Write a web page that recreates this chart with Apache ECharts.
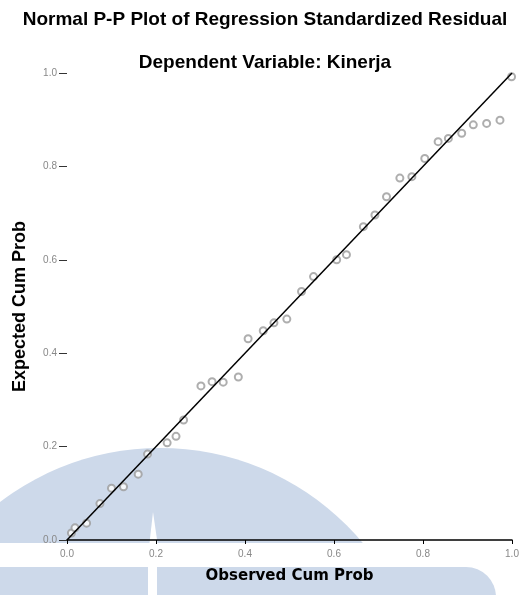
<!DOCTYPE html>
<html>
<head>
<meta charset="utf-8">
<script src="https://cdn.jsdelivr.net/npm/echarts@6/dist/echarts.min.js"></script>
<style>html,body{margin:0;padding:0;background:#fff}#c{width:530px;height:595px}</style>
</head>
<body>
<div id="c"></div>
<script>
// Observed cumulative probability (x) and expected cumulative probability (y)
var observedCumProb = [0.010, 0.018, 0.044, 0.074, 0.100, 0.127, 0.160, 0.181, 0.225, 0.245,
  0.262, 0.301, 0.326, 0.351, 0.385, 0.407, 0.441, 0.465, 0.494, 0.527,
  0.554, 0.606, 0.628, 0.666, 0.692, 0.718, 0.748, 0.775, 0.804, 0.834,
  0.857, 0.887, 0.913, 0.943, 0.973, 0.999];
var expectedCumProb = [0.015, 0.026, 0.036, 0.078, 0.111, 0.114, 0.141, 0.184, 0.208, 0.222,
  0.257, 0.330, 0.339, 0.338, 0.349, 0.431, 0.448, 0.465, 0.473, 0.532,
  0.564, 0.600, 0.611, 0.671, 0.696, 0.735, 0.775, 0.778, 0.817, 0.853,
  0.860, 0.871, 0.889, 0.892, 0.899, 0.992];
var refLineX = [0, 1];
var refLineY = [0, 1];
var tickLabels = ['0.0', '0.2', '0.4', '0.6', '0.8', '1.0'];

var chart = echarts.init(document.getElementById('c'), null, {renderer: 'canvas'});
var pts = observedCumProb.map(function (v, i) { return [v, expectedCumProb[i]]; });
var line = refLineX.map(function (v, i) { return [v, refLineY[i]]; });
var wm = '#cdd9ea';
var fmt = function (v) { var i = Math.round(v / 0.2); return tickLabels[i] !== undefined ? tickLabels[i] : v.toFixed(1); };

chart.setOption({
  backgroundColor: '#fff',
  animation: false,
  graphic: [
    {type: 'circle', z: -10, silent: true, shape: {cx: 160, cy: 712, r: 264}, style: {fill: wm}},
    {type: 'rect', z: -9, silent: true, shape: {x: 0, y: 543, width: 530, height: 24}, style: {fill: '#fff'}},
    {type: 'rect', z: -9, silent: true, shape: {x: 0, y: 567, width: 496, height: 30, r: [0, 30, 0, 0]}, style: {fill: wm}},
    {type: 'polygon', z: -8, silent: true, shape: {points: [[153, 512], [149.5, 543], [157.5, 543]]}, style: {fill: '#fff'}},
    {type: 'rect', z: -8, silent: true, shape: {x: 148, y: 567, width: 9, height: 30}, style: {fill: '#fff'}}
  ],
  title: [
    {text: 'Normal P-P Plot of Regression Standardized Residual', left: 'center', top: 5,
      textStyle: {fontFamily: 'Liberation Sans', fontWeight: 'bold', fontSize: 19, color: '#000'}},
    {text: 'Dependent Variable: Kinerja', left: 'center', top: 48,
      textStyle: {fontFamily: 'Liberation Sans', fontWeight: 'bold', fontSize: 19, color: '#000'}}
  ],
  grid: {left: 67, right: 18, top: 73, bottom: 55},
  xAxis: {
    type: 'value', min: 0, max: 1, interval: 0.2,
    name: 'Observed Cum Prob', nameLocation: 'middle', nameGap: 29,
    nameTextStyle: {fontFamily: 'DejaVu Sans', fontWeight: 'bold', fontSize: 15, color: '#000'},
    axisLine: {show: true, lineStyle: {color: '#000', width: 1.5}},
    axisTick: {show: true, length: 4, lineStyle: {color: '#000'}},
    axisLabel: {margin: 9, fontSize: 10, fontFamily: 'Liberation Sans', color: '#888', formatter: fmt},
    splitLine: {show: false}
  },
  yAxis: {
    type: 'value', min: 0, max: 1, interval: 0.2,
    name: 'Expected Cum Prob', nameLocation: 'middle', nameGap: 38, nameRotate: 90,
    nameTextStyle: {fontFamily: 'Liberation Sans', fontWeight: 'bold', fontSize: 18, color: '#000'},
    axisLine: {show: false},
    axisTick: {show: true, length: 8, lineStyle: {color: '#333'}},
    axisLabel: {margin: 10, fontSize: 10, fontFamily: 'Liberation Sans', color: '#888', formatter: fmt},
    splitLine: {show: false}
  },
  series: [
    {type: 'line', data: line, showSymbol: false, symbol: 'none',
      lineStyle: {color: '#000', width: 1.5}, z: 3, silent: true},
    {type: 'scatter', data: pts, symbol: 'emptyCircle', symbolSize: 7,
      itemStyle: {color: '#9a9a9a', borderWidth: 0.9}, z: 2}
  ]
});
</script>
</body>
</html>
